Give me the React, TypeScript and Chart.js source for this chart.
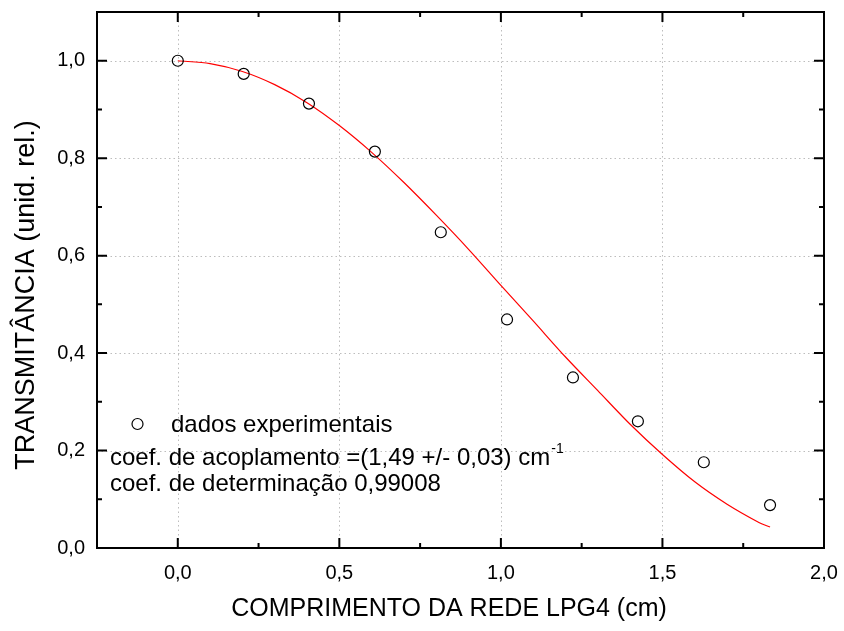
import React, { useEffect, useRef } from "react";
import { Chart, registerables } from "chart.js";

Chart.register(...registerables);

// Experimental data (grating length in cm, relative transmittance)
const lengthsCm = [0, 0.204, 0.406, 0.61, 0.814, 1.019, 1.223, 1.424, 1.628, 1.833];
const transmittance = [1.0, 0.973, 0.912, 0.8135, 0.648, 0.469, 0.35, 0.26, 0.176, 0.088];

// Fitted curve
const fitX = [0, 0.1, 0.2, 0.3, 0.4, 0.5, 0.6, 0.7, 0.8, 0.9, 1.0, 1.1, 1.2, 1.3, 1.4, 1.5, 1.6, 1.7, 1.8, 1.833];
const fitY = [1.0, 0.994, 0.978, 0.951, 0.914, 0.867, 0.812, 0.75, 0.683, 0.613, 0.539, 0.466, 0.392, 0.323, 0.254, 0.192, 0.136, 0.09, 0.052, 0.043];

const xMajorTicks = [0, 0.5, 1.0, 1.5, 2.0];
const xMinorTicks = [0.25, 0.75, 1.25, 1.75];
const xTickLabels = ["0,0", "0,5", "1,0", "1,5", "2,0"];
const yMajorTicks = [0, 0.2, 0.4, 0.6, 0.8, 1.0];
const yMinorTicks = [0.1, 0.3, 0.5, 0.7, 0.9];
const yTickLabels = ["0,0", "0,2", "0,4", "0,6", "0,8", "1,0"];

const xTitle = "COMPRIMENTO DA REDE LPG4 (cm)";
const yTitle = "TRANSMITÂNCIA (unid. rel.)";
const legendLabel = "dados experimentais";
const noteLine1 = "coef. de acoplamento =(1,49 +/- 0,03) cm";
const noteLine1Sup = "-1";
const noteLine2 = "coef. de determinação 0,99008";

const FONT = "'Liberation Sans', Arial, Helvetica, sans-serif";

const framePlugin = {
  id: "originFrame",
  beforeDatasetsDraw(chart: any) {
    const { ctx, chartArea: a, scales } = chart;
    const x = scales.x;
    const y = scales.y;
    ctx.save();
    ctx.strokeStyle = "#bdbdbd";
    ctx.lineWidth = 1;
    ctx.setLineDash([1.5, 3]);
    xMajorTicks.forEach((v) => {
      const px = Math.round(x.getPixelForValue(v)) + 0.5;
      ctx.beginPath();
      ctx.moveTo(px, a.top);
      ctx.lineTo(px, a.bottom);
      ctx.stroke();
    });
    yMajorTicks.forEach((v) => {
      const py = Math.round(y.getPixelForValue(v)) + 0.5;
      ctx.beginPath();
      ctx.moveTo(a.left, py);
      ctx.lineTo(a.right, py);
      ctx.stroke();
    });
    ctx.restore();
  },
  afterDatasetsDraw(chart: any) {
    const { ctx, chartArea: a, scales } = chart;
    const x = scales.x;
    const y = scales.y;
    ctx.save();
    ctx.setLineDash([]);
    ctx.strokeStyle = "#000";
    ctx.lineWidth = 2;
    ctx.strokeRect(a.left, a.top, a.right - a.left, a.bottom - a.top);

    const tick = (len: number, v: number, horiz: boolean) => {
      if (horiz) {
        const px = x.getPixelForValue(v);
        ctx.beginPath();
        ctx.moveTo(px, a.bottom);
        ctx.lineTo(px, a.bottom - len);
        ctx.moveTo(px, a.top);
        ctx.lineTo(px, a.top + len);
        ctx.stroke();
      } else {
        const py = y.getPixelForValue(v);
        ctx.beginPath();
        ctx.moveTo(a.left, py);
        ctx.lineTo(a.left + len, py);
        ctx.moveTo(a.right, py);
        ctx.lineTo(a.right - len, py);
        ctx.stroke();
      }
    };
    xMajorTicks.forEach((v) => tick(10, v, true));
    xMinorTicks.forEach((v) => tick(5, v, true));
    yMajorTicks.forEach((v) => tick(10, v, false));
    yMinorTicks.forEach((v) => tick(5, v, false));

    // Legend / annotations
    ctx.fillStyle = "#000";
    ctx.lineWidth = 1.2;
    ctx.beginPath();
    ctx.arc(137.5, 424, 5.5, 0, Math.PI * 2);
    ctx.stroke();
    ctx.font = `24px ${FONT}`;
    ctx.textAlign = "left";
    ctx.textBaseline = "alphabetic";
    ctx.fillText(legendLabel, 171, 432);
    ctx.fillText(noteLine1, 110, 465);
    const w1 = ctx.measureText(noteLine1).width;
    ctx.fillText(noteLine2, 110, 491);
    ctx.font = `14px ${FONT}`;
    ctx.fillText(noteLine1Sup, 110 + w1 + 1, 453);

    // Axis titles
    ctx.font = `25px ${FONT}`;
    ctx.textAlign = "center";
    ctx.textBaseline = "middle";
    ctx.fillText(xTitle, 449, 609);
    ctx.save();
    ctx.translate(27, 295);
    ctx.rotate(-Math.PI / 2);
    ctx.font = `27px ${FONT}`;
    ctx.fillText(yTitle, 0, 0);
    ctx.restore();
    ctx.restore();
  },
};

export default function App() {
  const ref = useRef<HTMLCanvasElement>(null);
  useEffect(() => {
    document.body.style.margin = "0";
    const chart = new Chart(ref.current!, {
      type: "scatter",
      data: {
        datasets: [
          {
            label: "ajuste",
            data: fitX.map((v, i) => ({ x: v, y: fitY[i] })),
            showLine: true,
            borderColor: "#ff0000",
            borderWidth: 1.2,
            pointRadius: 0,
            tension: 0.3,
            order: 2,
          },
          {
            label: legendLabel,
            data: lengthsCm.map((v, i) => ({ x: v, y: transmittance[i] })),
            showLine: false,
            pointStyle: "circle",
            pointRadius: 5.5,
            borderColor: "#000",
            backgroundColor: "rgba(0,0,0,0)",
            borderWidth: 1.2,
            order: 1,
          },
        ],
      },
      options: {
        responsive: false,
        animation: false,
        layout: { padding: { left: 0, right: 20, top: 12, bottom: 0 } },
        plugins: { legend: { display: false }, tooltip: { enabled: false } },
        scales: {
          x: {
            type: "linear",
            min: -0.25,
            max: 2.0,
            afterBuildTicks: (s: any) => {
              s.ticks = xMajorTicks.map((v) => ({ value: v }));
            },
            afterFit: (s: any) => {
              s.height = 83;
              s.paddingLeft = 0;
              s.paddingRight = 0;
              s.paddingTop = 0;
              s.paddingBottom = 0;
            },
            grid: { display: false, drawTicks: false },
            border: { display: false },
            ticks: {
              padding: 13,
              color: "#000",
              font: { family: FONT, size: 20 },
              maxRotation: 0,
              callback: (val: any) => {
                const i = xMajorTicks.findIndex((t) => Math.abs(t - val) < 1e-6);
                return i >= 0 ? xTickLabels[i] : "";
              },
            },
          },
          y: {
            type: "linear",
            min: 0,
            max: 1.1,
            afterBuildTicks: (s: any) => {
              s.ticks = yMajorTicks.map((v) => ({ value: v }));
            },
            afterFit: (s: any) => {
              s.width = 97;
              s.paddingLeft = 0;
              s.paddingRight = 0;
              s.paddingTop = 0;
              s.paddingBottom = 0;
            },
            grid: { display: false, drawTicks: false },
            border: { display: false },
            ticks: {
              padding: 12,
              color: "#000",
              font: { family: FONT, size: 20 },
              callback: (val: any) => {
                const i = yMajorTicks.findIndex((t) => Math.abs(t - val) < 1e-6);
                return i >= 0 ? yTickLabels[i] : "";
              },
            },
          },
        },
      },
      plugins: [framePlugin],
    });
    return () => chart.destroy();
  }, []);
  return (
    <div style={{ width: 844, height: 631 }}>
      <canvas ref={ref} width={844} height={631} style={{ display: "block" }} />
    </div>
  );
}
